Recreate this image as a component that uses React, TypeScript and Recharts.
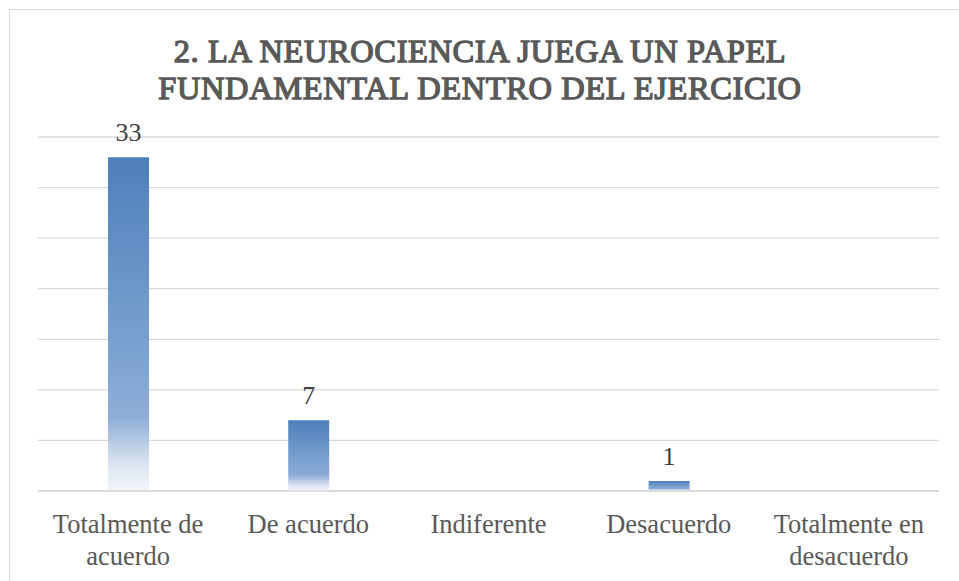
import React from 'react';
import { Bar, BarChart, CartesianGrid, LabelList, XAxis, YAxis } from 'recharts';

const categories = [
  'Totalmente de acuerdo',
  'De acuerdo',
  'Indiferente',
  'Desacuerdo',
  'Totalmente en desacuerdo',
];
const responses = [33, 7, 0, 1, 0];
const yTicks = [0, 5, 10, 15, 20, 25, 30, 35];
const titleLines = ['2. LA NEUROCIENCIA JUEGA UN PAPEL', 'FUNDAMENTAL DENTRO DEL EJERCICIO'];

const SERIF = '"Liberation Serif", "Times New Roman", serif';

const data = categories.map((name, i) => ({ name, value: responses[i] }));

// split long category names into two lines like the original
const wrap = (label: string): string[] => {
  if (label.startsWith('Totalmente ')) {
    const words = label.split(' ');
    return [words.slice(0, 2).join(' '), words.slice(2).join(' ')];
  }
  return [label];
};

const CategoryTick = ({ x, y, payload }: any) => {
  const lines = wrap(payload.value);
  return (
    <text x={x} y={y} textAnchor="middle" fill="#595959" fontSize={26.5} fontFamily={SERIF}>
      {lines.map((line, i) => (
        <tspan key={i} x={x} dy={i === 0 ? 42 : 32}>
          {line}
        </tspan>
      ))}
    </text>
  );
};

export default function App() {
  return (
    <div style={{ position: 'absolute', left: 0, top: 0, width: 959, height: 581, background: '#fff', overflow: 'hidden' }}>
      <div
        style={{
          position: 'absolute',
          left: 9,
          top: 9,
          width: 1000,
          height: 600,
          borderLeft: '1.5px solid #d9d9d9',
          borderTop: '1.5px solid #d9d9d9',
        }}
      />
      <BarChart
        width={959}
        height={581}
        data={data}
        margin={{ top: 137, right: 20, left: 38, bottom: 30 }}
        style={{ position: 'absolute', left: 0, top: 0 }}
      >
        <defs>
          <linearGradient id="barFade" x1="0" y1="0" x2="0" y2="1">
            <stop offset="0" stopColor="#4e7fbc" />
            <stop offset="0.55" stopColor="#79a0cf" />
            <stop offset="0.78" stopColor="#8eaed8" />
            <stop offset="0.86" stopColor="#bccde6" />
            <stop offset="0.93" stopColor="#dfe7f3" />
            <stop offset="1" stopColor="#f4f7fb" />
          </linearGradient>
        </defs>
        {/* bold serif face is not installed, so thicken the regular one */}
        <text
          x={480}
          y={62}
          textAnchor="middle"
          fill="#595959"
          stroke="#595959"
          strokeWidth={1.3}
          fontSize={32.5}
          fontFamily="Liberation Serif"
          letterSpacing={0.6}
        >
          <tspan x={480}>{titleLines[0]}</tspan>
          <tspan x={480} dy={37}>
            {titleLines[1]}
          </tspan>
        </text>
        <CartesianGrid vertical={false} stroke="#d9d9d9" strokeWidth={1.3} />
        <YAxis hide domain={[0, 35]} ticks={yTicks} />
        <XAxis
          dataKey="name"
          height={60}
          axisLine={{ stroke: '#d9d9d9', strokeWidth: 1.3 }}
          tickLine={false}
          tickSize={0}
          tickMargin={0}
          interval={0}
          tick={<CategoryTick />}
        />
        <Bar dataKey="value" fill="url(#barFade)" barSize={41} isAnimationActive={false}>
          <LabelList
            dataKey="value"
            position="top"
            offset={16}
            fill="#404040"
            fontSize={26}
            fontFamily={SERIF}
            formatter={(v: any) => (v ? v : '')}
          />
        </Bar>
      </BarChart>
    </div>
  );
}
